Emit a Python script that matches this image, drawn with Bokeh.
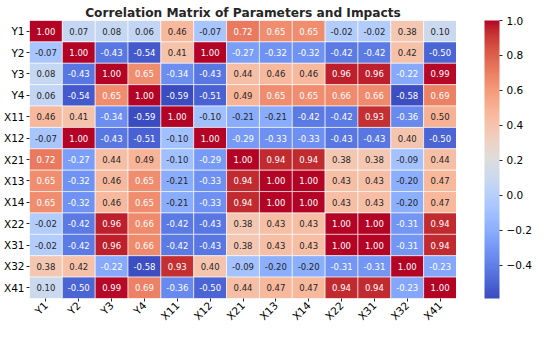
import math
from bokeh.plotting import figure
from bokeh.layouts import row
from bokeh.models import (ColumnDataSource, LinearColorMapper, ColorBar, FixedTicker,
                          PrintfTickFormatter, FactorRange, Range1d)
from bokeh.transform import transform
from bokeh.core.properties import value
from bokeh.embed import file_html
from bokeh.resources import INLINE

labels = ["Y1", "Y2", "Y3", "Y4", "X11", "X12", "X21", "X13", "X14", "X22", "X31", "X32", "X41"]

row_Y1 = [1.00, 0.07, 0.08, 0.06, 0.46, -0.07, 0.72, 0.65, 0.65, -0.02, -0.02, 0.38, 0.10]
row_Y2 = [-0.07, 1.00, -0.43, -0.54, 0.41, 1.00, -0.27, -0.32, -0.32, -0.42, -0.42, 0.42, -0.50]
row_Y3 = [0.08, -0.43, 1.00, 0.65, -0.34, -0.43, 0.44, 0.46, 0.46, 0.96, 0.96, -0.22, 0.99]
row_Y4 = [0.06, -0.54, 0.65, 1.00, -0.59, -0.51, 0.49, 0.65, 0.65, 0.66, 0.66, -0.58, 0.69]
row_X11 = [0.46, 0.41, -0.34, -0.59, 1.00, -0.10, -0.21, -0.21, -0.42, -0.42, 0.93, -0.36, 0.50]
row_X12 = [-0.07, 1.00, -0.43, -0.51, -0.10, 1.00, -0.29, -0.33, -0.33, -0.43, -0.43, 0.40, -0.50]
row_X21 = [0.72, -0.27, 0.44, 0.49, -0.10, -0.29, 1.00, 0.94, 0.94, 0.38, 0.38, -0.09, 0.44]
row_X13 = [0.65, -0.32, 0.46, 0.65, -0.21, -0.33, 0.94, 1.00, 1.00, 0.43, 0.43, -0.20, 0.47]
row_X14 = [0.65, -0.32, 0.46, 0.65, -0.21, -0.33, 0.94, 1.00, 1.00, 0.43, 0.43, -0.20, 0.47]
row_X22 = [-0.02, -0.42, 0.96, 0.66, -0.42, -0.43, 0.38, 0.43, 0.43, 1.00, 1.00, -0.31, 0.94]
row_X31 = [-0.02, -0.42, 0.96, 0.66, -0.42, -0.43, 0.38, 0.43, 0.43, 1.00, 1.00, -0.31, 0.94]
row_X32 = [0.38, 0.42, -0.22, -0.58, 0.93, 0.40, -0.09, -0.20, -0.20, -0.31, -0.31, 1.00, -0.23]
row_X41 = [0.10, -0.50, 0.99, 0.69, -0.36, -0.50, 0.44, 0.47, 0.47, 0.94, 0.94, -0.23, 1.00]

rows = [row_Y1, row_Y2, row_Y3, row_Y4, row_X11, row_X12, row_X21, row_X13, row_X14,
        row_X22, row_X31, row_X32, row_X41]

colorbar_ticks = [-0.4, -0.2, 0.0, 0.2, 0.4, 0.6, 0.8, 1.0]

# coolwarm anchor colours (Moreland)
anchors = [(59,76,192),(68,90,204),(77,104,215),(87,117,225),(98,130,234),(108,142,241),
           (119,154,247),(130,165,251),(141,176,254),(152,185,255),(163,194,255),(174,201,253),
           (184,208,249),(194,213,244),(204,217,238),(213,219,230),(221,221,221),(229,216,209),
           (236,211,197),(241,204,185),(245,196,173),(247,187,160),(247,177,148),(247,166,135),
           (244,154,123),(241,141,111),(236,127,99),(229,112,88),(222,96,77),(213,80,66),
           (203,62,56),(192,40,47),(180,4,38)]

def interp(t):
    pos = t * (len(anchors) - 1)
    i = min(int(pos), len(anchors) - 2)
    f = pos - i
    a, b = anchors[i], anchors[i + 1]
    return tuple(round(a[k] + (b[k] - a[k]) * f) for k in range(3))

N = 256
palette_rgb = [interp(i / (N - 1)) for i in range(N)]
palette = ["#%02x%02x%02x" % c for c in palette_rgb]

all_vals = [v for r in rows for v in r]
low, high = min(all_vals), max(all_vals)
mapper = LinearColorMapper(palette=palette, low=low, high=high)

def lum(c):
    out = []
    for x in c:
        x = x / 255
        out.append(x / 12.92 if x <= 0.03928 else ((x + 0.055) / 1.055) ** 2.4)
    return 0.2126 * out[0] + 0.7152 * out[1] + 0.0722 * out[2]

xs, ys, vals, txt, tcol = [], [], [], [], []
for r, rname in enumerate(labels):
    for c, cname in enumerate(labels):
        v = rows[r][c]
        xs.append(cname)
        ys.append(rname)
        vals.append(v)
        txt.append("%.2f" % v)
        idx = int((v - low) / (high - low) * N)
        idx = max(0, min(N - 1, idx))
        tcol.append("#262626" if lum(palette_rgb[idx]) > 0.408 else "#ffffff")

src = ColumnDataSource(dict(x=xs, y=ys, v=vals, t=txt, tc=tcol))

TOP, BOTTOM, H = 20, 34, 332

p = figure(width=456, height=H, x_range=FactorRange(*labels),
           y_range=FactorRange(*reversed(labels)), output_backend="svg",
           toolbar_location=None, min_border_left=6, min_border_top=TOP,
           min_border_bottom=BOTTOM, min_border_right=0)
p.rect(x="x", y="y", width=1, height=1, source=src,
       fill_color=transform("v", mapper), line_color="white", line_width=0.6)
p.text(x="x", y="y", text="t", source=src, text_color="tc", text_align="center",
       text_baseline="middle", text_font_size="8.5px", text_font=value("DejaVu Sans"))

p.title.text = "Correlation Matrix of Parameters and Impacts"
p.title.align = "center"
p.title.text_font_size = "12.2px"
p.title.text_font = "DejaVu Sans"
p.title.text_font_style = "bold"
p.title.text_color = "#262626"
p.title.offset = 0
p.title.standoff = 1

for ax in (p.xaxis, p.yaxis):
    ax.axis_line_color = None
    ax.major_tick_in = 0
    ax.major_tick_out = 3
    ax.minor_tick_line_color = None
    ax.major_label_text_font = "DejaVu Sans"
    ax.major_label_text_font_size = "10.5px"
    ax.major_label_text_color = "#000000"
    ax.major_label_standoff = 2
    ax.major_tick_line_color = "#262626"
p.xaxis.major_label_orientation = math.pi / 4
p.xgrid.visible = False
p.ygrid.visible = False
p.outline_line_color = None

# separate narrow figure holding the colour bar (its empty frame is the gap)
pc = figure(width=78, height=H, x_range=Range1d(0, 1), y_range=Range1d(0, 1),
            output_backend="svg", toolbar_location=None, x_axis_location=None,
            y_axis_location=None, min_border_left=0, min_border_right=0,
            min_border_top=TOP, min_border_bottom=BOTTOM)
pc.xgrid.visible = False
pc.ygrid.visible = False
pc.outline_line_color = None

cb = ColorBar(color_mapper=mapper, ticker=FixedTicker(ticks=colorbar_ticks),
              formatter=PrintfTickFormatter(format="%.1f"),
              major_label_overrides={-0.4: "\u22120.4", -0.2: "\u22120.2"},
              width=15, margin=0, padding=0, label_standoff=4,
              major_tick_out=3, major_tick_in=0, major_tick_line_color="#262626",
              major_label_text_font="DejaVu Sans", major_label_text_font_size="10.5px",
              major_label_text_color="#000000", bar_line_color=None, border_line_color=None)
pc.add_layout(cb, "right")

layout = row(p, pc)
open("out.html", "w").write(file_html(layout, INLINE))
